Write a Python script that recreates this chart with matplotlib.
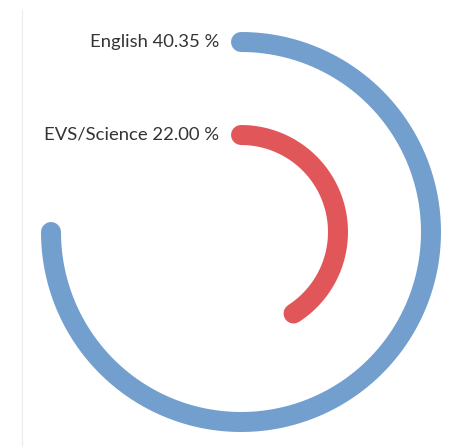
import matplotlib
matplotlib.use("Agg")
import matplotlib.pyplot as plt
import numpy as np

# data
subjects = ["English", "EVS/Science"]
shares = [40.35, 22.00]
colors = ["#729fce", "#e15759"]

# the largest bar spans three quarters of the circle
full_turn = max(shares) / 0.75
ring_r = [190, 97]  # pixel radius of each ring

W, H = 449, 447
fig = plt.figure(figsize=(W / 100, H / 100), dpi=100)

# faint left border line
fig.add_artist(plt.Line2D([21.5 / W, 21.5 / W], [0, 1 - 10 / H],
                          color="#ececec", lw=0.8))

cx, cy, R = 241, 232, 205
ax = fig.add_axes([(cx - R) / W, (H - cy - R) / H, 2 * R / W, 2 * R / H],
                  projection="polar")
ax.set_theta_zero_location("N")
ax.set_theta_direction(-1)
ax.set_ylim(0, R)
ax.axis("off")

for name, val, col, r in zip(subjects, shares, colors, ring_r):
    theta = np.linspace(0, 2 * np.pi * val / full_turn, 300)
    ax.plot(theta, np.full_like(theta, r), color=col, lw=14.4,
            solid_capstyle="round")
    ax.annotate(f"{name} {val:.2f} %", xy=(0, r), xytext=(-22, 0),
                textcoords="offset pixels", ha="right", va="center",
                fontsize=13.3, family="Lato", color="#333333")

fig.savefig("out.png", dpi=100)
